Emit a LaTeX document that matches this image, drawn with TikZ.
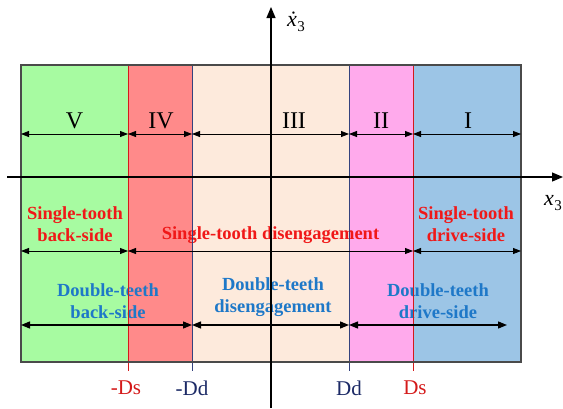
\documentclass[tikz,border=0pt]{standalone}
\usepackage{fontspec}
\setmainfont{Liberation Serif}
\usetikzlibrary{arrows.meta}
\definecolor{zgreen}{HTML}{A7FBA1}
\definecolor{zred}{HTML}{FF8A8A}
\definecolor{zpeach}{HTML}{FDEADC}
\definecolor{zpink}{HTML}{FFAAEC}
\definecolor{zblue}{HTML}{9CC5E6}
\definecolor{lred}{HTML}{D41A1A}
\definecolor{lnavy}{HTML}{34427E}
\definecolor{tred}{HTML}{F01818}
\definecolor{tblue}{HTML}{1E78C8}
\definecolor{tnavy}{HTML}{1C2A66}
\definecolor{border}{HTML}{4A4A4A}
\tikzset{
  dimarrow/.style={{Triangle[length=8pt,width=6pt]}-{Triangle[length=8pt,width=6pt]}, line width=0.8pt, black},
  dimarrowb/.style={{Triangle[length=9pt,width=7pt]}-{Triangle[length=9pt,width=7pt]}, line width=1.3pt, black},
  axis/.style={-{Triangle[length=11pt,width=9pt]}, line width=1.2pt, black},
  roman/.style={font=\fontsize{24}{24}\selectfont, inner sep=0pt},
  redlab/.style={font=\fontsize{18.5}{22}\selectfont\bfseries, text=tred, align=center, inner sep=0pt},
  bluelab/.style={font=\fontsize{18.5}{22}\selectfont\bfseries, text=tblue, align=center, inner sep=0pt},
  ticklab/.style={font=\fontsize{21}{21}\selectfont, inner sep=0pt},
}
\begin{document}
\begin{tikzpicture}[x=1pt,y=-1pt]
\useasboundingbox (0,0) rectangle (563,408);
% region boundaries
\coordinate (L) at (21,65);
\coordinate (R) at (521,362);
% fills
\fill[zgreen] (21,65) rectangle (128,362);
\fill[zred] (128,65) rectangle (192,362);
\fill[zpeach] (192,65) rectangle (349,362);
\fill[zpink] (349,65) rectangle (413,362);
\fill[zblue] (413,65) rectangle (521,362);
% texts
\node[roman] (n5) at (74.5,121) {V};
\node[roman] (n4) at (161,121) {IV};
\node[roman] (n3) at (294,121) {III};
\node[roman] (n2) at (381,121) {II};
\node[roman] (n1) at (468,121) {I};
\node[redlab] (sbl) at (75,224) {Single-tooth\\back-side};
\node[redlab] (sdis) at (270.5,235) {Single-tooth disengagement};
\node[redlab] (sdr) at (466,224) {Single-tooth\\drive-side};
\node[bluelab] (dbl) at (108,301) {Double-teeth\\back-side};
\node[bluelab] (ddis) at (273,297) {Double-teeth\\disengagement};
\node[bluelab] (ddr) at (438,301) {Double-teeth\\drive-side};
% boundary lines with ticks
\draw[lred, line width=1pt] (128,65) coordinate (mDsT) -- (128,371) coordinate (mDsB);
\draw[lnavy, line width=1pt] (192,65) coordinate (mDdT) -- (192,371) coordinate (mDdB);
\draw[lnavy, line width=1pt] (349,65) coordinate (DdT) -- (349,371) coordinate (DdB);
\draw[lred, line width=1pt] (413,65) coordinate (DsT) -- (413,371) coordinate (DsB);
% border
\draw[border, line width=1.2pt] (L) rectangle (R);
% axes
\coordinate (xs) at (7,177);
\coordinate (xe) at (563,177);
\coordinate (ys) at (271,408);
\coordinate (ye) at (271,7);
\draw[axis] (xs) -- (xe);
\draw[axis] (ys) -- (ye);
\node[font=\fontsize{22}{22}\selectfont, inner sep=0pt] (xl) at (553,203) {\textit{x}\kern0.5pt\raisebox{-5pt}{\fontsize{15}{15}\selectfont 3}};
\node[font=\fontsize{22}{22}\selectfont, inner sep=0pt] (yl) at (296,22) {\textit{\.{x}}\kern0.5pt\raisebox{-5pt}{\fontsize{15}{15}\selectfont 3}};
% upper arrows
\coordinate (u0) at (21,134);
\coordinate (u1) at (128,134);
\coordinate (u2) at (192,134);
\coordinate (u3) at (349,134);
\coordinate (u4) at (413,134);
\coordinate (u5) at (521,134);
\draw[dimarrow] (u0) -- (u1);
\draw[dimarrow] (u1) -- (u2);
\draw[dimarrow] (u2) -- (u3);
\draw[dimarrow] (u3) -- (u4);
\draw[dimarrow] (u4) -- (u5);
% middle arrows
\coordinate (m0) at (21,251);
\coordinate (m1) at (128,251);
\coordinate (m2) at (413,251);
\coordinate (m3) at (521,251);
\draw[dimarrow] (m0) -- (m1);
\draw[dimarrow] (m1) -- (m2);
\draw[dimarrow] (m2) -- (m3);
% lower arrows
\coordinate (l0) at (21,325);
\coordinate (l1) at (192,325);
\coordinate (l2) at (349,325);
\coordinate (l3) at (507,325);
\draw[dimarrowb] (l0) -- (l1);
\draw[dimarrowb] (l1) -- (l2);
\draw[dimarrowb] (l2) -- (l3);
% tick labels
\node[ticklab, text=lred] (tmDs) at (126,388) {-Ds};
\node[ticklab, text=tnavy] (tmDd) at (192,388) {-Dd};
\node[ticklab, text=tnavy] (tDd) at (349,388) {Dd};
\node[ticklab, text=lred] (tDs) at (415,388) {Ds};
\end{tikzpicture}
\end{document}
